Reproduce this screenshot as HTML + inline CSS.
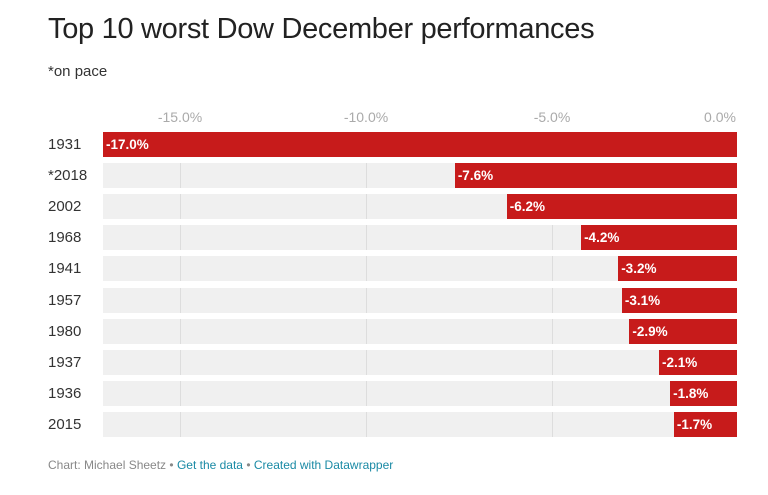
<!DOCTYPE html>
<html><head><meta charset="utf-8"><style>
body{margin:0;background:#fff;width:768px;height:495px;overflow:hidden;font-family:"Liberation Sans",sans-serif;position:relative}
.t{position:absolute;left:48px;top:13px;font-size:29px;color:#222;letter-spacing:-0.3px}
.s{position:absolute;left:48px;top:63px;font-size:15px;color:#333}
.ax{position:absolute;top:109px;font-size:14px;color:#aaa;transform:translateX(-50%)}
.row{position:absolute;left:0;height:25px;width:768px}
.yr{position:absolute;left:48px;top:4px;font-size:15px;color:#333}
.bg{position:absolute;left:103px;width:634px;top:0;height:25px;background:#f0f0f0}
.g{position:absolute;top:0;height:25px;width:1px;background:#ddd}
.bar{position:absolute;top:0;height:25px;background:#c71b1b;right:31px}
.v{position:absolute;top:5px;left:3px;color:#fff;font-weight:bold;font-size:13.5px}
.f{position:absolute;left:48px;top:458px;font-size:12px;color:#888}
.f a{color:#1a8aa5;text-decoration:none}
</style></head><body>
<div class="t">Top 10 worst Dow December performances</div>
<div class="s">*on pace</div>
<div class="ax" style="left:180px">-15.0%</div>
<div class="ax" style="left:366px">-10.0%</div>
<div class="ax" style="left:552px">-5.0%</div>
<div class="ax" style="left:720px">0.0%</div>
<div id="rows"></div>
<div class="f">Chart: Michael Sheetz • <a>Get the data</a> • <a>Created with Datawrapper</a></div>
<script>
var d=[["1931",-17.0],["*2018",-7.6],["2002",-6.2],["1968",-4.2],["1941",-3.2],["1957",-3.1],["1980",-2.9],["1937",-2.1],["1936",-1.8],["2015",-1.7]];
var h="";
d.forEach(function(r,i){var top=132+i*31.1;var w=i==0?634:-r[1]*37.13;
h+='<div class="row" style="top:'+top+'px"><div class="yr">'+r[0]+'</div><div class="bg"></div>'+
'<div class="g" style="left:180px"></div><div class="g" style="left:366px"></div><div class="g" style="left:552px"></div>'+
'<div class="bar" style="width:'+w+'px"><div class="v">'+r[1].toFixed(1)+'%</div></div></div>';});
document.getElementById("rows").innerHTML=h;
</script>
</body></html>
